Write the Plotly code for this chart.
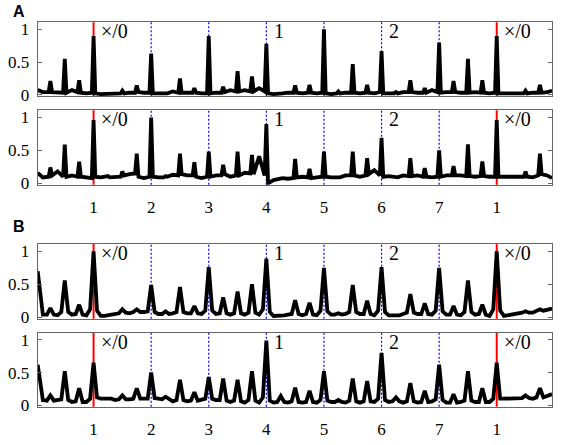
import plotly.graph_objects as go

# beat grid (time in beats), tick labels and the markers written in each panel
BEATS = [1, 2, 3, 4, 5, 6, 7, 8]
BEAT_LABELS = ["1", "2", "3", "4", "5", "6", "7", "1"]
DOWNBEATS = [1, 8]
MARKS = ["×/0", "1", "2", "×/0"]
MARK_X = [1, 4, 6, 8]

# sample times for the narrow (A) and the broad (B) recordings
A_X = [0.03, 0.12, 0.22, 0.25, 0.28, 0.375, 0.47, 0.5, 0.53, 0.625, 0.72, 0.75, 0.78, 0.875,
       0.97, 1, 1.03, 1.125, 1.22, 1.25, 1.28, 1.375, 1.47, 1.5, 1.53, 1.625, 1.72, 1.75, 1.78, 1.875,
       1.97, 2, 2.03, 2.125, 2.22, 2.25, 2.28, 2.375, 2.47, 2.5, 2.53, 2.625, 2.72, 2.75, 2.78, 2.875,
       2.97, 3, 3.03, 3.125, 3.22, 3.25, 3.28, 3.375, 3.47, 3.5, 3.53, 3.625, 3.72, 3.75, 3.78, 3.875,
       3.97, 4, 4.03, 4.125, 4.22, 4.25, 4.28, 4.375, 4.47, 4.5, 4.53, 4.625, 4.72, 4.75, 4.78, 4.875,
       4.97, 5, 5.03, 5.125, 5.22, 5.25, 5.28, 5.375, 5.47, 5.5, 5.53, 5.625, 5.72, 5.75, 5.78, 5.875,
       5.97, 6, 6.03, 6.125, 6.22, 6.25, 6.28, 6.375, 6.47, 6.5, 6.53, 6.625, 6.72, 6.75, 6.78, 6.875,
       6.97, 7, 7.03, 7.125, 7.22, 7.25, 7.28, 7.375, 7.47, 7.5, 7.53, 7.625, 7.72, 7.75, 7.78, 7.875,
       7.97, 8, 8.03, 8.125, 8.22, 8.25, 8.28, 8.375, 8.47, 8.5, 8.53, 8.625, 8.72, 8.75, 8.78, 8.875,
       8.96]

B_X = [0.03, 0.12, 0.19, 0.25, 0.31, 0.375, 0.44, 0.5, 0.56, 0.625, 0.69, 0.75, 0.81, 0.875,
       0.94, 1, 1.06, 1.125, 1.19, 1.25, 1.31, 1.375, 1.44, 1.5, 1.56, 1.625, 1.69, 1.75, 1.81, 1.875,
       1.94, 2, 2.06, 2.125, 2.19, 2.25, 2.31, 2.375, 2.44, 2.5, 2.56, 2.625, 2.69, 2.75, 2.81, 2.875,
       2.94, 3, 3.06, 3.125, 3.19, 3.25, 3.31, 3.375, 3.44, 3.5, 3.56, 3.625, 3.69, 3.75, 3.81, 3.875,
       3.94, 4, 4.06, 4.125, 4.19, 4.25, 4.31, 4.375, 4.44, 4.5, 4.56, 4.625, 4.69, 4.75, 4.81, 4.875,
       4.94, 5, 5.06, 5.125, 5.19, 5.25, 5.31, 5.375, 5.44, 5.5, 5.56, 5.625, 5.69, 5.75, 5.81, 5.875,
       5.94, 6, 6.06, 6.125, 6.19, 6.25, 6.31, 6.375, 6.44, 6.5, 6.56, 6.625, 6.69, 6.75, 6.81, 6.875,
       6.94, 7, 7.06, 7.125, 7.19, 7.25, 7.31, 7.375, 7.44, 7.5, 7.56, 7.625, 7.69, 7.75, 7.81, 7.875,
       7.94, 8, 8.06, 8.125, 8.19, 8.25, 8.31, 8.375, 8.44, 8.5, 8.56, 8.625, 8.69, 8.75, 8.81, 8.875,
       8.96]

A_TOP_Y = [0.07, 0.04, 0.04, 0.21, 0.04, 0.03, 0.03, 0.55, 0.03, 0.07, 0.04, 0.22, 0.03, 0.02,
           0.03, 0.90, 0.02, 0.01, 0.01, 0.02, 0.01, 0.02, 0.02, 0.06, 0.02, 0.03, 0.03, 0.14, 0.04, 0.03,
           0.03, 0.63, 0.02, 0.02, 0.02, 0.03, 0.02, 0.05, 0.03, 0.25, 0.03, 0.03, 0.03, 0.10, 0.03, 0.02,
           0.02, 0.90, 0.02, 0.03, 0.03, 0.12, 0.04, 0.07, 0.05, 0.36, 0.05, 0.07, 0.05, 0.28, 0.05, 0.10,
           0.05, 0.78, 0.02, 0.01, 0.01, 0.02, 0.02, 0.03, 0.03, 0.14, 0.03, 0.02, 0.03, 0.15, 0.03, 0.02,
           0.03, 1.00, 0.02, 0.01, 0.02, 0.05, 0.02, 0.03, 0.03, 0.47, 0.03, 0.02, 0.03, 0.15, 0.03, 0.02,
           0.04, 0.67, 0.02, 0.02, 0.02, 0.04, 0.02, 0.04, 0.04, 0.22, 0.04, 0.03, 0.03, 0.10, 0.03, 0.07,
           0.04, 0.80, 0.03, 0.04, 0.04, 0.21, 0.04, 0.03, 0.03, 0.55, 0.03, 0.04, 0.03, 0.22, 0.03, 0.02,
           0.03, 0.90, 0.02, 0.02, 0.02, 0.03, 0.02, 0.02, 0.02, 0.06, 0.02, 0.03, 0.03, 0.15, 0.03, 0.04,
           0.06]

A_BOT_Y = [0.16, 0.09, 0.10, 0.24, 0.12, 0.18, 0.10, 0.59, 0.10, 0.12, 0.10, 0.33, 0.10, 0.09,
           0.08, 0.96, 0.10, 0.09, 0.10, 0.11, 0.09, 0.10, 0.10, 0.18, 0.12, 0.14, 0.15, 0.45, 0.10, 0.08,
           0.10, 1.00, 0.10, 0.09, 0.09, 0.11, 0.10, 0.13, 0.12, 0.45, 0.14, 0.12, 0.12, 0.32, 0.10, 0.08,
           0.10, 0.48, 0.10, 0.12, 0.12, 0.28, 0.14, 0.10, 0.12, 0.48, 0.12, 0.16, 0.15, 0.43, 0.14, 0.41,
           0.12, 0.90, 0.00, 0.05, 0.06, 0.07, 0.08, 0.07, 0.08, 0.37, 0.09, 0.10, 0.09, 0.22, 0.08, 0.09,
           0.10, 0.48, 0.10, 0.09, 0.09, 0.10, 0.09, 0.12, 0.12, 0.48, 0.12, 0.10, 0.12, 0.38, 0.14, 0.20,
           0.12, 0.69, 0.10, 0.11, 0.10, 0.10, 0.09, 0.12, 0.11, 0.38, 0.11, 0.12, 0.10, 0.23, 0.10, 0.09,
           0.10, 0.50, 0.10, 0.12, 0.12, 0.26, 0.12, 0.12, 0.11, 0.59, 0.11, 0.10, 0.11, 0.33, 0.11, 0.10,
           0.10, 0.96, 0.10, 0.10, 0.10, 0.09, 0.10, 0.10, 0.10, 0.18, 0.10, 0.09, 0.12, 0.45, 0.14, 0.12,
           0.08]

B_TOP_Y = [0.70, 0.04, 0.04, 0.14, 0.04, 0.03, 0.08, 0.56, 0.08, 0.04, 0.05, 0.19, 0.04, 0.03,
           0.12, 1.00, 0.10, 0.02, 0.02, 0.03, 0.03, 0.05, 0.06, 0.12, 0.07, 0.06, 0.08, 0.12, 0.08, 0.08,
           0.09, 0.49, 0.08, 0.05, 0.05, 0.09, 0.05, 0.06, 0.08, 0.46, 0.08, 0.06, 0.06, 0.17, 0.06, 0.05,
           0.10, 0.76, 0.10, 0.05, 0.06, 0.30, 0.06, 0.04, 0.06, 0.39, 0.06, 0.04, 0.07, 0.50, 0.07, 0.04,
           0.12, 0.89, 0.08, 0.02, 0.02, 0.03, 0.03, 0.04, 0.05, 0.26, 0.05, 0.03, 0.05, 0.22, 0.04, 0.03,
           0.10, 0.75, 0.09, 0.04, 0.04, 0.06, 0.04, 0.05, 0.08, 0.49, 0.08, 0.05, 0.05, 0.25, 0.05, 0.03,
           0.10, 0.76, 0.08, 0.03, 0.03, 0.04, 0.03, 0.05, 0.07, 0.35, 0.07, 0.05, 0.05, 0.21, 0.05, 0.04,
           0.10, 0.75, 0.09, 0.04, 0.04, 0.17, 0.04, 0.03, 0.08, 0.56, 0.08, 0.04, 0.05, 0.19, 0.04, 0.02,
           0.12, 1.00, 0.10, 0.02, 0.03, 0.04, 0.04, 0.06, 0.07, 0.09, 0.07, 0.07, 0.09, 0.12, 0.10, 0.11,
           0.13]

B_BOT_Y = [0.62, 0.08, 0.07, 0.15, 0.07, 0.08, 0.09, 0.52, 0.08, 0.05, 0.06, 0.26, 0.05, 0.05,
           0.10, 0.65, 0.12, 0.10, 0.10, 0.10, 0.10, 0.08, 0.09, 0.15, 0.09, 0.09, 0.10, 0.26, 0.10, 0.10,
           0.10, 0.50, 0.11, 0.10, 0.09, 0.13, 0.09, 0.06, 0.08, 0.39, 0.08, 0.06, 0.07, 0.20, 0.07, 0.08,
           0.10, 0.43, 0.10, 0.08, 0.08, 0.41, 0.07, 0.05, 0.07, 0.39, 0.06, 0.04, 0.08, 0.52, 0.07, 0.04,
           0.12, 0.99, 0.07, 0.04, 0.05, 0.14, 0.05, 0.04, 0.06, 0.27, 0.05, 0.04, 0.05, 0.22, 0.05, 0.04,
           0.08, 0.52, 0.07, 0.05, 0.05, 0.08, 0.05, 0.04, 0.07, 0.41, 0.06, 0.04, 0.06, 0.37, 0.06, 0.05,
           0.10, 0.80, 0.08, 0.05, 0.06, 0.12, 0.06, 0.04, 0.06, 0.34, 0.06, 0.04, 0.05, 0.22, 0.05, 0.06,
           0.09, 0.62, 0.08, 0.04, 0.04, 0.17, 0.04, 0.05, 0.07, 0.52, 0.07, 0.05, 0.05, 0.26, 0.05, 0.05,
           0.10, 0.65, 0.10, 0.10, 0.10, 0.10, 0.10, 0.10, 0.11, 0.15, 0.11, 0.10, 0.12, 0.26, 0.12, 0.14,
           0.17]

SERIF = "Liberation Serif"

# (x, y, y-domain, show x tick labels)
panels = [
    (A_X, A_TOP_Y, [0.7836, 0.9535], False),
    (A_X, A_BOT_Y, [0.5798, 0.7512], True),
    (B_X, B_TOP_Y, [0.2719, 0.4434], False),
    (B_X, B_BOT_Y, [0.0697, 0.2398], True),
]

fig = go.Figure()
layout = {}
shapes = []
annotations = []

for i, (xs, ys, dom, show_x) in enumerate(panels, start=1):
    sfx = "" if i == 1 else str(i)
    fig.add_trace(go.Scatter(x=xs, y=ys, mode="lines",
                             line=dict(color="black", width=3.8),
                             xaxis="x" + sfx, yaxis="y" + sfx, showlegend=False))

    layout["xaxis" + sfx] = dict(
        domain=[0.0672, 0.984], anchor="y" + sfx, range=[0.03, 8.96],
        tickvals=BEATS, ticktext=BEAT_LABELS, showticklabels=show_x,
        ticks="", ticklabelstandoff=7,
        showgrid=False, zeroline=False,
        showline=True, mirror=True, linecolor="#666", linewidth=1,
        tickfont=dict(family=SERIF, size=17, color="black"),
    )
    layout["yaxis" + sfx] = dict(
        domain=dom, anchor="x" + sfx, range=[-0.022, 1.11],
        tickvals=[0, 0.5, 1], ticktext=["0", "0.5", "1"],
        ticks="inside", ticklen=4, tickcolor="#666", ticklabelstandoff=4,
        showgrid=False, zeroline=False,
        showline=True, mirror="ticks", linecolor="#666", linewidth=1,
        tickfont=dict(family=SERIF, size=17, color="black"),
    )

    # beat markers: red on the downbeat, blue dotted elsewhere
    for b in BEATS:
        red = b in DOWNBEATS
        shapes.append(dict(
            type="line", xref="x" + sfx, yref="y" + sfx + " domain",
            x0=b, x1=b, y0=0, y1=1, layer="below",
            line=dict(color="red" if red else "blue",
                      width=2 if red else 1.2,
                      dash="solid" if red else "2px,2px"),
        ))

    for txt, mx in zip(MARKS, MARK_X):
        annotations.append(dict(
            text=txt, x=mx + 0.1, y=0.97, xref="x" + sfx, yref="y" + sfx,
            xanchor="left", yanchor="middle", showarrow=False,
            font=dict(family=SERIF, size=20, color="black"),
        ))

for letter, ypos in [("A", 0.979), ("B", 0.483)]:
    annotations.append(dict(
        text="<b>%s</b>" % letter, x=0.019, y=ypos, xref="paper", yref="paper",
        xanchor="left", yanchor="middle", showarrow=False,
        font=dict(family="Liberation Sans", size=16, color="black"),
    ))

fig.update_layout(
    width=561, height=445,
    margin=dict(l=0, r=0, t=0, b=0),
    paper_bgcolor="white", plot_bgcolor="white",
    shapes=shapes, annotations=annotations,
    **layout,
)

# the page's default body margin would shift the figure by 8px
fig.write_html("out.html", config={"displayModeBar": False},
               post_script="document.body.style.margin='0';")
